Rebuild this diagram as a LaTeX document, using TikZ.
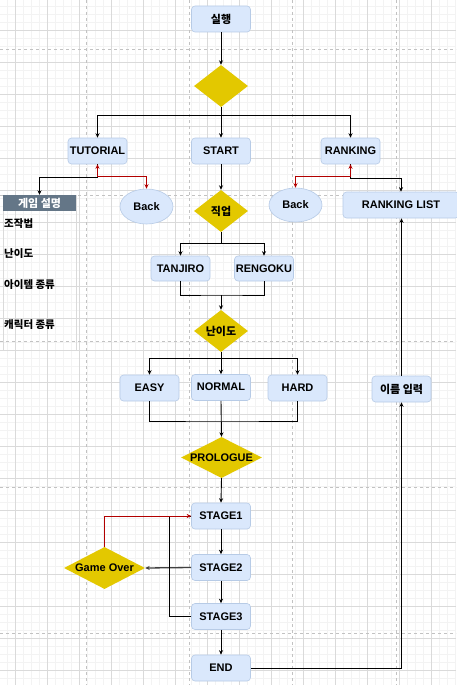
\documentclass[tikz,border=0pt]{standalone}
\usepackage{fontspec}
\setmainfont{Liberation Sans}
\newfontfamily\kr{Noto Sans CJK KR}
\usetikzlibrary{shapes.geometric,arrows.meta}
\definecolor{boxfill}{HTML}{DAE8FC}
\definecolor{boxline}{HTML}{B7CBE6}
\definecolor{ylw}{HTML}{E3C800}
\definecolor{hdr}{HTML}{647687}
\definecolor{redl}{HTML}{B20000}
\definecolor{gmin}{HTML}{F3F3F3}
\definecolor{gmaj}{HTML}{DADADA}
\definecolor{gpage}{HTML}{C2C2C2}
\begin{document}
\begin{tikzpicture}[x=1pt,y=-1pt,
  font=\fontsize{11}{13}\selectfont\bfseries,
  >={Stealth[length=4.5pt,width=4pt]},
  box/.style={rectangle, rounded corners=3.5pt, fill=boxfill, draw=boxline, line width=0.6pt, minimum width=59pt, minimum height=26pt, inner sep=0pt},
  dia/.style={diamond, fill=ylw, draw=none, inner sep=0pt, minimum width=54pt, minimum height=42pt},
  oval/.style={ellipse, fill=boxfill, draw=boxline, line width=0.6pt, minimum width=53pt, minimum height=35pt, inner sep=0pt},
  kor/.style={font=\kr\fontsize{11}{13}\selectfont\bfseries},
  conn/.style={line width=0.9pt, draw=black},
  arr/.style={conn, ->},
  redc/.style={line width=0.9pt, draw=redl, {Stealth[length=4.5pt,width=4pt]}-{Stealth[length=4.5pt,width=4pt]}},
  item/.style={anchor=west, inner sep=0pt, font=\kr\fontsize{10.5}{12}\selectfont\bfseries}
]
\useasboundingbox (0,0) rectangle (456,685);
\fill[white] (0,0) rectangle (456,685);
% grid
\foreach \x in {7,15,...,455} \draw[gmin, line width=0.5pt] (\x,0) -- (\x,685);
\foreach \y in {6,14,...,685} \draw[gmin, line width=0.5pt] (0,\y) -- (456,\y);
\foreach \x in {15,47,...,447} \draw[gmaj, line width=0.6pt] (\x,0) -- (\x,685);
\foreach \y in {30,62,...,670} \draw[gmaj, line width=0.6pt] (0,\y) -- (456,\y);
\foreach \x in {86,189.4,292.7,396} \draw[gpage, line width=0.8pt, dash pattern=on 3pt off 3pt] (\x,0) -- (\x,685);
\foreach \y in {49.3,195.4,341.5,487.6,633.7} \draw[gpage, line width=0.8pt, dash pattern=on 3pt off 3pt] (0,\y) -- (456,\y);

% left panel
\draw[draw=gmaj, line width=0.6pt] (3,195) rectangle (76,350);
\node[rectangle, fill=hdr, draw=none, minimum width=73pt, minimum height=16pt, inner sep=0pt, text=white, kor] (hdr) at (39.5,203) {게임 설명};
\node[item] (i1) at (4,224) {조작법};
\node[item] (i2) at (4,254) {난이도};
\node[item] (i3) at (4,285) {아이템 종류};
\node[item] (i4) at (4,325) {캐릭터 종류};

% nodes
\node[box, kor] (run) at (221,19) {실행};
\node[dia] (d0) at (221,86) {};
\node[box] (tut) at (97.5,151) {TUTORIAL};
\node[box] (start) at (221,151) {START};
\node[box] (rank) at (350.5,151) {RANKING};
\node[oval] (back1) at (146.5,206.5) {Back};
\node[dia, label={[kor]center:직업}] (job) at (221,211) {};
\node[oval, minimum height=34pt] (back2) at (295.5,205) {Back};
\node[box, minimum width=116pt] (rlist) at (401,205) {RANKING LIST};
\node[box, minimum height=25pt] (tanjiro) at (180.5,268.5) {TANJIRO};
\node[box, minimum height=25pt] (rengoku) at (264,268.5) {RENGOKU};
\node[dia, label={[kor]center:난이도}] (diff) at (221,331) {};
\node[box] (easy) at (149.5,388) {EASY};
\node[box, text depth=2pt] (normal) at (221,387.5) {NORMAL};
\node[box] (hard) at (297.5,388) {HARD};
\node[box, kor] (name) at (401.5,389) {이름 입력};
\node[dia, minimum width=81pt, minimum height=41pt, label={center:PROLOGUE}] (pro) at (221.5,457.5) {};
\node[box] (s1) at (221,516) {STAGE1};
\node[box] (s2) at (221,567.5) {STAGE2};
\node[box] (s3) at (221,616.5) {STAGE3};
\node[box] (end) at (221,668) {END};
\node[dia, minimum width=81pt, minimum height=42pt, label={center:Game Over}] (go) at (104.5,568) {};

\coordinate (j0) at (221,115);
\coordinate (j1) at (221,243);
\coordinate (j2) at (221,295);
\coordinate (j3) at (221,358);
\coordinate (j4) at (221,421);

% connectors
\draw[arr] (run) -- (d0);
\draw[conn] (d0.south) -- (j0);
\draw[arr] (j0) -| (tut.north);
\draw[arr] (j0) -| (rank.north);
\draw[arr] (j0) -- (start.north);
\draw[arr] (start) -- (job);
\draw[arr] (tut.south) -- ++(0,13) -| (hdr.north);
\draw[redc] (tut.south) -- ++(0,12) -| (back1.north);
\draw[arr] (rank.south) -- ++(0,14) -| (rlist.north);
\draw[redc] (rank.south) -- ++(0,12) -| (back2.north);
\draw[conn] (job.south) -- (j1);
\draw[arr] (j1) -| (tanjiro.north);
\draw[arr] (j1) -| (rengoku.north);
\draw[conn] (tanjiro.south) |- (j2) -| (rengoku.south);
\draw[arr] (j2) -- (diff.north);
\draw[conn] (diff.south) -- (j3);
\draw[arr] (j3) -| (easy.north);
\draw[arr] (j3) -| (hard.north);
\draw[arr] (j3) -- (normal.north);
\draw[conn] (easy.south) |- (j4) -| (hard.south);
\draw[arr] (normal.south) -- (pro.north);
\draw[arr] (pro.south) -- (s1.north);
\draw[arr] (s1) -- (s2);
\draw[arr] (s2) -- (s3);
\draw[arr] (s3) -- (end);
\draw[line width=1.3pt, draw=black!75, ->] (s2.west) -- (go.east);
\draw[conn] (s3.west) -- (169,616.5) |- (s1.west);
\draw[line width=0.9pt, draw=redl, ->] (go.north) |- (s1.west);
\draw[arr] (end.east) -| (name.south);
\draw[arr] (name.north) -- (name.north |- rlist.south);
\end{tikzpicture}
\end{document}
